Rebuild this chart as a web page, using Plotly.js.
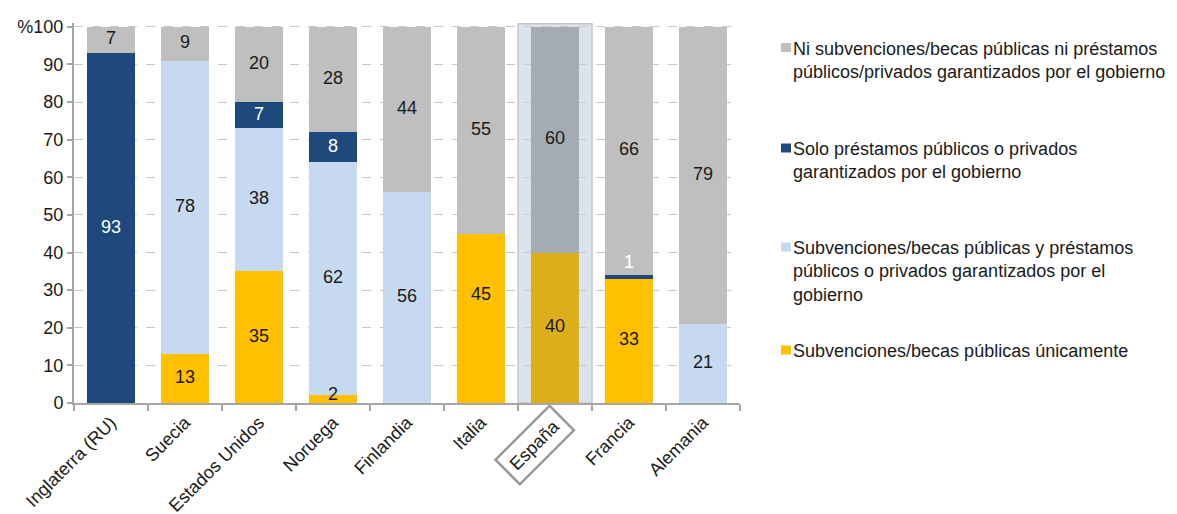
<!DOCTYPE html>
<html><head><meta charset="utf-8">
<script src="https://cdn.plot.ly/plotly-3.0.1.min.js"></script>
<style>html,body{margin:0;padding:0;background:#fff}#chart{width:1177px;height:514px}</style>
</head><body><div id="chart"></div>
<script>
// ---- data ----
const categories = ['Inglaterra (RU)','Suecia','Estados Unidos','Noruega','Finlandia','Italia','España','Francia','Alemania'];
const soloSubvenciones = [0,13,35,2,0,45,40,33,0];
const subvencionesYPrestamos = [0,78,38,62,56,0,0,0,21];
const soloPrestamos = [93,0,7,8,0,0,0,1,0];
const ninguno = [7,9,20,28,44,55,60,66,79];
const seriesNames = [
  'Subvenciones/becas públicas únicamente',
  'Subvenciones/becas públicas y préstamos<br>públicos o privados garantizados por el<br>gobierno',
  'Solo préstamos públicos o privados<br>garantizados por el gobierno',
  'Ni subvenciones/becas públicas ni préstamos<br>públicos/privados garantizados por el gobierno'
];
const yTickVals = [0,10,20,30,40,50,60,70,80,90,100];
const yTickText = ['0','10','20','30','40','50','60','70','80','90','%100'];
const highlighted = 'España';

// ---- style ----
const FONT = 'Arial, "Liberation Sans", sans-serif';
const TXT = '#1a1a1a';
const seriesValues = [soloSubvenciones, subvencionesYPrestamos, soloPrestamos, ninguno];
const colors = ['#ffc000', '#c6d9f1', '#1f497d', '#bfbfbf'];
const hiColors = ['#dcae19', '#b3c2d6', '#1f3f66', '#a5abb2'];
const labelColors = [TXT, TXT, '#ffffff', TXT];
const labelNudge = {'Italia|0': 6.2, 'Noruega|0': 1.1, 'Francia|2': 3.5};

const traces = [];
seriesValues.forEach((vals, s) => {
  traces.push({
    type: 'bar', x: categories, y: vals, name: seriesNames[s],
    marker: {color: categories.map(c => c === highlighted ? hiColors[s] : colors[s]), line: {width: 0}},
    hoverinfo: 'x+y', showlegend: false
  });
});
// labels
seriesValues.forEach((vals, s) => {
  const ys = [], ts = [];
  vals.forEach((v, i) => {
    let base = 0;
    for (let k = 0; k < s; k++) base += seriesValues[k][i];
    const n = labelNudge[categories[i] + '|' + s] || 0;
    ys.push(base + v / 2 + n);
    ts.push(v > 0 ? String(v) : '');
  });
  traces.push({
    type: 'scatter', mode: 'text', x: categories, y: ys, text: ts,
    textfont: {family: FONT, size: 18, color: labelColors[s]},
    textposition: 'middle center', hoverinfo: 'skip', showlegend: false, cliponaxis: false
  });
});

const L = 74, T = 23, W = 666, H = 380;
const py = p => (T + H - p) / H; // pixel y -> paper
const px = p => (p - L) / W;

const legendItems = [
  {s: 3, top: 47.5},
  {s: 2, top: 148},
  {s: 1, top: 247},
  {s: 0, top: 350}
];
const shapes = [{
  type: 'rect', xref: 'x', yref: 'y', x0: 5.5, x1: 6.5, y0: 0, y1: 100.8,
  fillcolor: '#dce3ec', line: {color: '#c4c8cc', width: 1.5}, layer: 'below'
}];
const annotations = [];
legendItems.forEach(it => {
  shapes.push({type: 'rect', xref: 'paper', yref: 'paper',
    x0: px(781), x1: px(791), y0: py(it.top + 4.5), y1: py(it.top - 4.5),
    fillcolor: colors[it.s], line: {width: 0}});
  annotations.push({xref: 'paper', yref: 'paper', x: px(791), y: py(it.top - 11),
    xanchor: 'left', yanchor: 'top', align: 'left', showarrow: false,
    text: seriesNames[it.s], font: {family: FONT, size: 18, color: TXT}});
});
annotations.push({xref: 'x', yref: 'paper', x: highlighted, y: 0, xshift: -21, yshift: -42,
  xanchor: 'center', yanchor: 'middle', showarrow: false, textangle: -45,
  text: highlighted, font: {family: FONT, size: 18, color: TXT},
  bordercolor: '#9a9a9a', borderwidth: 2.5, borderpad: 6, bgcolor: 'rgba(255,255,255,0)'});

const layout = {
  width: 1177, height: 514,
  margin: {l: L, r: 1177 - L - W, t: T, b: 514 - T - H},
  paper_bgcolor: '#ffffff', plot_bgcolor: 'rgba(0,0,0,0)',
  barmode: 'stack', bargap: 0.34,
  font: {family: FONT, size: 18, color: TXT},
  showlegend: false,
  xaxis: {
    type: 'category', categoryorder: 'array', categoryarray: categories,
    tickvals: categories, ticktext: categories.map(c => c === highlighted ? '' : c),
    tickangle: -45, tickfont: {family: FONT, size: 18, color: TXT},
    showline: true, linecolor: '#a6a6a6', linewidth: 2,
    ticks: 'outside', tickson: 'boundaries', ticklen: 6, tickcolor: '#a6a6a6', tickwidth: 2,
    showgrid: false, zeroline: false, fixedrange: true
  },
  yaxis: {
    range: [0, 101], tickvals: yTickVals, ticktext: yTickText,
    tickfont: {family: FONT, size: 18, color: TXT},
    showline: true, linecolor: '#a6a6a6', linewidth: 2,
    ticks: 'outside', ticklen: 5, tickcolor: '#a6a6a6', tickwidth: 2,
    showgrid: true, gridcolor: '#c8c8c8', griddash: 'dash', gridwidth: 1,
    zeroline: false, fixedrange: true
  },
  shapes: shapes, annotations: annotations
};
Plotly.newPlot('chart', traces, layout, {displayModeBar: false, staticPlot: true});
</script></body></html>
